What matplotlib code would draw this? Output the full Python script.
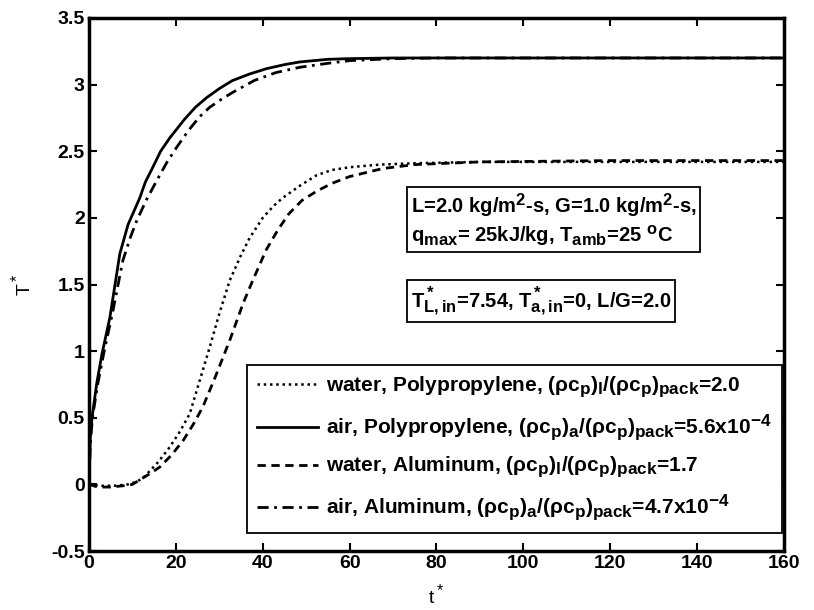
import matplotlib
matplotlib.use("Agg")
import matplotlib.pyplot as plt
import matplotlib._mathtext as mt

# the original figure uses larger sub/superscripts than mathtext's default
mt.SHRINK_FACTOR = 0.82

plt.rcParams['font.family'] = ['Liberation Sans', 'DejaVu Sans']
plt.rcParams['font.weight'] = 'bold'
plt.rcParams['mathtext.fontset'] = 'custom'
plt.rcParams['mathtext.rm'] = 'Liberation Sans:bold'
plt.rcParams['mathtext.it'] = 'Liberation Sans:bold'
plt.rcParams['mathtext.bf'] = 'Liberation Sans:bold'
plt.rcParams['mathtext.default'] = 'regular'

# air, Polypropylene (solid)
t_ap = [0, 0.3, 0.7, 1.8, 3, 4.8, 6, 7.1, 9, 11.7, 13, 14.7, 16.5, 18.6, 22, 24.5, 27, 30, 33, 37, 40.9, 45, 48.5, 55, 60, 70, 80, 100, 130, 160]
T_ap = [0, 0.35, 0.5, 0.76, 0.98, 1.25, 1.5, 1.73, 1.95, 2.15, 2.27, 2.38, 2.5, 2.6, 2.74, 2.83, 2.9, 2.97, 3.03, 3.08, 3.12, 3.15, 3.17, 3.19, 3.195, 3.2, 3.2, 3.2, 3.2, 3.2]

# air, Aluminum (dash-dot)
t_aa = [0, 0.3, 0.8, 2, 3.5, 5.5, 7.8, 9.5, 11, 13.3, 15.6, 18, 20.2, 23, 25.5, 27.8, 30.5, 33, 38, 43, 48.5, 55, 60, 70, 80, 100, 130, 160]
T_aa = [0, 0.3, 0.5, 0.75, 1.0, 1.3, 1.68, 1.85, 1.98, 2.14, 2.28, 2.42, 2.53, 2.66, 2.76, 2.83, 2.89, 2.94, 3.03, 3.09, 3.13, 3.16, 3.18, 3.195, 3.2, 3.2, 3.2, 3.2]

# water, Polypropylene (dotted)
t_wp = [0, 3, 6, 9, 11, 12.5, 14, 16, 18.6, 21, 23.2, 25.5, 27.8, 30, 32.4, 35, 37, 40, 42.5, 44.6, 48.5, 52.4, 56, 60, 67, 75, 90, 120, 160]
T_wp = [0, -0.01, -0.01, 0.0, 0.02, 0.05, 0.1, 0.17, 0.28, 0.4, 0.53, 0.78, 1.03, 1.28, 1.53, 1.72, 1.85, 2.0, 2.09, 2.15, 2.24, 2.32, 2.36, 2.38, 2.4, 2.41, 2.42, 2.42, 2.42]

# water, Aluminum (dashed)
t_wa = [0, 2, 5, 8, 10, 12, 14, 16.3, 19, 21.7, 24, 26.2, 29, 32.4, 35.5, 37.7, 40.8, 43.5, 46, 49, 52.4, 56, 60, 67.6, 75, 90, 120, 160]
T_wa = [0, -0.02, -0.02, -0.01, 0.0, 0.04, 0.08, 0.13, 0.22, 0.33, 0.45, 0.58, 0.8, 1.08, 1.36, 1.53, 1.76, 1.91, 2.03, 2.13, 2.2, 2.26, 2.31, 2.37, 2.4, 2.42, 2.43, 2.43]

labels = [
    r"water, Polypropylene, $(\rho c_p)_l/(\rho c_p)_{pack}$=2.0",
    r"air, Polypropylene, $(\rho c_p)_a/(\rho c_p)_{pack}$=5.6x10$^{-4}$",
    r"water, Aluminum, $(\rho c_p)_l/(\rho c_p)_{pack}$=1.7",
    r"air, Aluminum, $(\rho c_p)_a/(\rho c_p)_{pack}$=4.7x10$^{-4}$",
]

fig = plt.figure(figsize=(8.14, 6.1), dpi=100)
ax = fig.add_axes([0.1093, 0.0967, 0.8538, 0.8738])

ax.plot(t_wp, T_wp, color='black', lw=1.8, linestyle=(0, (1, 1.5)), label=labels[0])
ax.plot(t_ap, T_ap, color='black', lw=2.0, linestyle='-', label=labels[1])
ax.plot(t_wa, T_wa, color='black', lw=2.0, linestyle=(0, (3, 2)), label=labels[2])
ax.plot(t_aa, T_aa, color='black', lw=2.0, linestyle=(0, (4, 2, 1, 2)), label=labels[3])

ax.set_xlim(0, 160)
ax.set_ylim(-0.5, 3.5)
ax.set_xticks(range(0, 161, 20))
ax.set_yticks([-0.5, 0, 0.5, 1, 1.5, 2, 2.5, 3, 3.5])
ax.set_yticklabels(['-0.5', '0', '0.5', '1', '1.5', '2', '2.5', '3', '3.5'])
ax.tick_params(direction='in', top=True, right=True, labelsize=14, width=1.5, length=6, pad=3)
for s in ax.spines.values():
    s.set_linewidth(2.5)

ax.set_xlabel(r"t$^*$", fontsize=14, labelpad=8)
ax.set_ylabel(r"T$^*$", fontsize=14, labelpad=12)

ax.text(0.463, 0.621, "L=2.0 kg/m$^2$-s, G=1.0 kg/m$^2$-s,\nq$_{max}$= 25kJ/kg, T$_{amb}$=25 $^o$C",
        transform=ax.transAxes, fontsize=14.5, va='center', ha='left', linespacing=1.2,
        bbox=dict(boxstyle='square,pad=0.2', fc='white', ec='black', lw=1.3))
ax.text(0.463, 0.469, r"T$^*_{L,in}$=7.54, T$^*_{a,in}$=0, L/G=2.0",
        transform=ax.transAxes, fontsize=14.5, va='center', ha='left',
        bbox=dict(boxstyle='square,pad=0.2', fc='white', ec='black', lw=1.3))

leg = ax.legend(loc='lower right', bbox_to_anchor=(0.997, 0.033), borderaxespad=0, fontsize=15,
                labelspacing=0.6, handlelength=2.9, handletextpad=0.4, borderpad=0.5,
                fancybox=False, framealpha=1, edgecolor='black')
leg.get_frame().set_linewidth(1.3)

fig.savefig("out.png", dpi=100)
